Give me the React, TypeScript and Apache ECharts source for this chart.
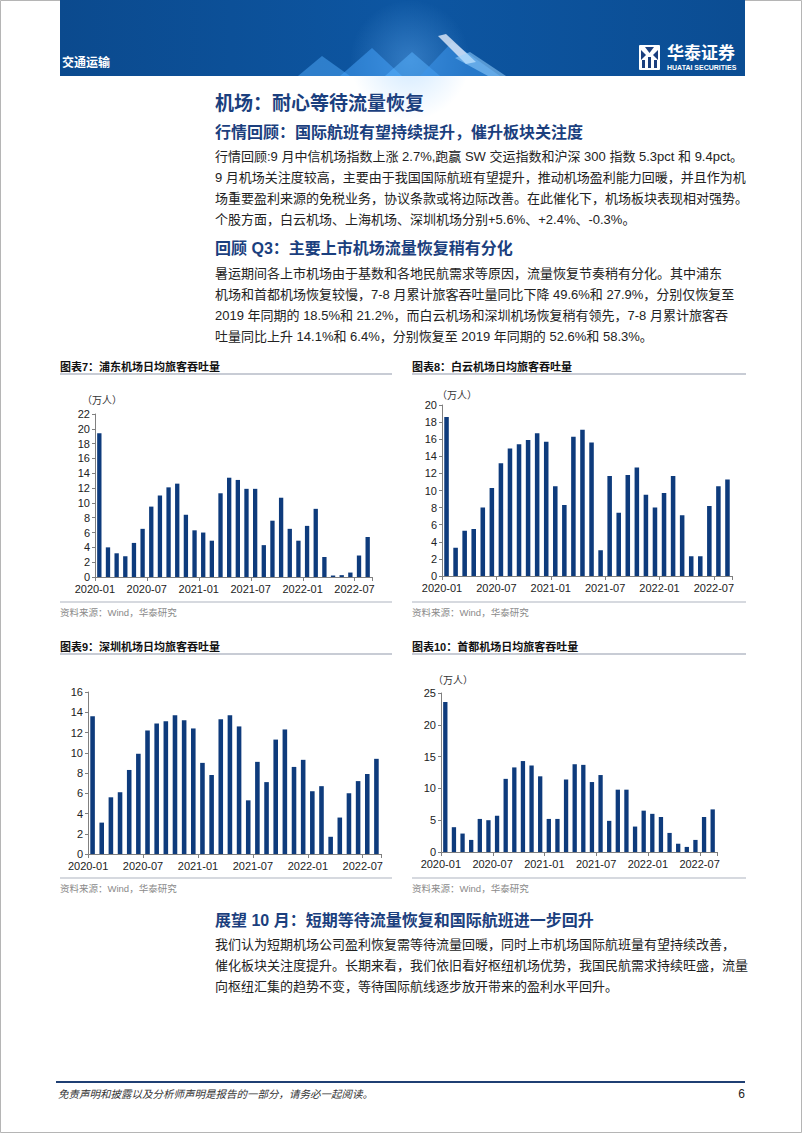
import React, { useEffect, useRef } from "react";
import * as echarts from "echarts";

const categories = [
  "2020-01", "2020-02", "2020-03", "2020-04", "2020-05", "2020-06", "2020-07", "2020-08",
  "2020-09", "2020-10", "2020-11", "2020-12", "2021-01", "2021-02", "2021-03", "2021-04",
  "2021-05", "2021-06", "2021-07", "2021-08", "2021-09", "2021-10", "2021-11", "2021-12",
  "2022-01", "2022-02", "2022-03", "2022-04", "2022-05", "2022-06", "2022-07", "2022-08",
];

const pudong = [19.4, 4.0, 3.2, 2.8, 4.6, 6.5, 9.5, 11.0, 12.1, 12.6, 8.4, 6.3, 6.0, 4.9, 11.3, 13.4, 13.1, 11.9, 11.9, 4.3, 7.6, 10.7, 6.5, 4.9, 6.9, 9.2, 2.7, 0.2, 0.25, 0.6, 2.9, 5.4];
const baiyun = [18.6, 3.3, 5.3, 5.5, 8.0, 10.3, 13.2, 14.9, 15.4, 15.9, 16.7, 15.7, 10.5, 8.3, 16.3, 17.1, 15.6, 3.0, 11.7, 7.4, 11.8, 12.7, 9.5, 8.0, 9.7, 11.7, 7.1, 2.3, 2.3, 8.2, 10.5, 11.3];
const shenzhen = [13.6, 3.1, 5.6, 6.1, 8.3, 9.9, 12.2, 12.9, 13.1, 13.7, 13.2, 12.4, 9.0, 7.8, 13.3, 13.7, 12.6, 5.3, 9.1, 7.1, 11.3, 12.3, 8.6, 9.3, 6.2, 6.7, 1.7, 3.6, 6.0, 7.2, 7.9, 9.4];
const capital = [23.6, 3.9, 2.9, 1.9, 5.2, 5.0, 5.7, 11.5, 13.3, 14.3, 13.6, 11.9, 5.2, 5.2, 11.4, 13.8, 13.7, 11.0, 12.1, 4.9, 9.8, 9.8, 4.0, 6.5, 6.0, 5.5, 3.0, 1.3, 0.8, 1.9, 5.5, 6.7];

const seriesData = [pudong, baiyun, shenzhen, capital];
const yMax = [22, 20, 16, 25];
const yInterval = [2, 2, 2, 5];
const chartTitles = [
  "图表7：浦东机场日均旅客吞吐量",
  "图表8：白云机场日均旅客吞吐量",
  "图表9：深圳机场日均旅客吞吐量",
  "图表10：首都机场日均旅客吞吐量",
];
const unitLabel = "（万人）";
const sourceText = "资料来源：Wind，华泰研究";

const headerSector = "交通运输";
const logoCn = "华泰证券";
const logoEn = "HUATAI SECURITIES";
const mainTitle = "机场：耐心等待流量恢复";
const heading1 = "行情回顾：国际航班有望持续提升，催升板块关注度";
const para1 = [
  "行情回顾:9 月中信机场指数上涨 2.7%,跑赢 SW 交运指数和沪深 300 指数 5.3pct 和 9.4pct。",
  "9 月机场关注度较高，主要由于我国国际航班有望提升，推动机场盈利能力回暖，并且作为机",
  "场重要盈利来源的免税业务，协议条款或将边际改善。在此催化下，机场板块表现相对强势。",
  "个股方面，白云机场、上海机场、深圳机场分别+5.6%、+2.4%、-0.3%。",
];
const heading2 = "回顾 Q3：主要上市机场流量恢复稍有分化";
const para2 = [
  "暑运期间各上市机场由于基数和各地民航需求等原因，流量恢复节奏稍有分化。其中浦东",
  "机场和首都机场恢复较慢，7-8 月累计旅客吞吐量同比下降 49.6%和 27.9%，分别仅恢复至",
  "2019 年同期的 18.5%和 21.2%，而白云机场和深圳机场恢复稍有领先，7-8 月累计旅客吞",
  "吐量同比上升 14.1%和 6.4%，分别恢复至 2019 年同期的 52.6%和 58.3%。",
];
const heading3 = "展望 10 月：短期等待流量恢复和国际航班进一步回升";
const para3 = [
  "我们认为短期机场公司盈利恢复需等待流量回暖，同时上市机场国际航班量有望持续改善，",
  "催化板块关注度提升。长期来看，我们依旧看好枢纽机场优势，我国民航需求持续旺盛，流量",
  "向枢纽汇集的趋势不变，等待国际航线逐步放开带来的盈利水平回升。",
];
const footerText = "免责声明和披露以及分析师声明是报告的一部分，请务必一起阅读。";
const pageNumber = "6";

const FONT = '"Liberation Sans", "Noto Sans CJK SC", sans-serif';
const BLUE = "#1b3f7e";
const BAR = "#0e3b7c";
const AXIS = "#808080";

const grids = [
  { left: 95, top: 414, width: 277, height: 163 },
  { left: 442, top: 405, width: 290, height: 171 },
  { left: 88, top: 692, width: 293, height: 162 },
  { left: 441, top: 693, width: 276, height: 159 },
];

function txt(text: string, x: number, y: number, o: any = {}) {
  return {
    type: "text",
    x,
    y,
    silent: true,
    style: {
      text,
      fill: o.fill || "#222",
      fontSize: o.fontSize || 13,
      fontWeight: o.fontWeight || "normal",
      fontStyle: o.fontStyle || "normal",
      fontFamily: FONT,
      align: o.align || "left",
      verticalAlign: "middle",
    },
  };
}

function ln(x1: number, y1: number, x2: number, y2: number, color: string, w: number) {
  return {
    type: "line",
    silent: true,
    shape: { x1, y1, x2, y2 },
    style: { stroke: color, lineWidth: w },
  };
}

function buildGraphics() {
  const g: any[] = [];
  g.push({ type: "rect", silent: true, shape: { x: 0.5, y: 0.5, width: 801, height: 1132 }, style: { fill: "none", stroke: "#b5b5b5", lineWidth: 1 } });
  g.push({
    type: "rect",
    silent: true,
    shape: { x: 60, y: 0, width: 685, height: 76 },
    style: {
      fill: new echarts.graphic.LinearGradient(0, 0, 1, 0, [
        { offset: 0, color: "#0b4a8e" },
        { offset: 0.5, color: "#0d56a2" },
        { offset: 1, color: "#0b4d93" },
      ]),
    },
  });
  g.push({
    type: "circle",
    silent: true,
    shape: { cx: 410, cy: 60, r: 60 },
    style: {
      fill: new echarts.graphic.RadialGradient(0.5, 0.5, 0.5, [
        { offset: 0, color: "rgba(120,190,255,0.35)" },
        { offset: 1, color: "rgba(120,190,255,0)" },
      ]),
    },
  });
  const tri = (pts: number[][], fill: string) => ({ type: "polygon", silent: true, shape: { points: pts }, style: { fill } });
  g.push(tri([[298, 76], [322, 56], [350, 76]], "rgba(80,170,250,0.5)"));
  g.push(tri([[340, 76], [372, 48], [402, 76]], "rgba(70,160,245,0.55)"));
  g.push(tri([[385, 76], [412, 52], [440, 76]], "rgba(90,180,255,0.5)"));
  g.push(tri([[420, 76], [452, 42], [500, 76]], "rgba(60,150,235,0.55)"));
  g.push(tri([[438, 36], [446, 34], [476, 62], [466, 64]], "rgba(225,235,250,0.8)"));
  g.push(tri([[455, 58], [470, 52], [506, 76], [488, 76]], "rgba(150,210,255,0.55)"));
  g.push(txt(headerSector, 62, 63, { fill: "#ffffff", fontSize: 12, fontWeight: "bold" }));
  g.push({ type: "rect", silent: true, shape: { x: 639, y: 45, width: 21, height: 25, r: 1 }, style: { fill: "#ffffff" } });
  g.push(tri([[641, 50], [646, 55], [641, 60]], BLUE));
  g.push(tri([[658, 50], [653, 55], [658, 60]], BLUE));
  g.push(tri([[645, 47], [654, 47], [649.5, 53]], BLUE));
  g.push({ type: "rect", silent: true, shape: { x: 642, y: 60, width: 3, height: 8 }, style: { fill: BLUE } });
  g.push({ type: "rect", silent: true, shape: { x: 648, y: 57, width: 3, height: 11 }, style: { fill: BLUE } });
  g.push({ type: "rect", silent: true, shape: { x: 654, y: 60, width: 3, height: 8 }, style: { fill: BLUE } });
  g.push(txt(logoCn, 667, 53, { fill: "#ffffff", fontSize: 17, fontWeight: "bold" }));
  g.push(txt(logoEn, 667, 67, { fill: "#ffffff", fontSize: 7, fontWeight: "bold" }));

  g.push(txt(mainTitle, 215, 103, { fill: BLUE, fontSize: 19, fontWeight: "bold" }));
  g.push(txt(heading1, 215, 132, { fill: BLUE, fontSize: 16, fontWeight: "bold" }));
  const p1y = [156, 177, 198, 219];
  para1.forEach((s, i) => g.push(txt(s, 215, p1y[i], { fontSize: 13, fill: "#222" })));
  g.push(txt(heading2, 215, 248, { fill: BLUE, fontSize: 16, fontWeight: "bold" }));
  const p2y = [273, 294, 315, 336];
  para2.forEach((s, i) => g.push(txt(s, 215, p2y[i], { fontSize: 13, fill: "#222" })));
  g.push(txt(heading3, 215, 920, { fill: BLUE, fontSize: 16, fontWeight: "bold" }));
  const p3y = [944, 965, 986];
  para3.forEach((s, i) => g.push(txt(s, 215, p3y[i], { fontSize: 13, fill: "#222" })));

  const titleY = [367, 367, 647, 647];
  const colX = [[60, 392], [412, 746], [60, 392], [412, 746]];
  const bottomY = [602, 602, 878, 878];
  chartTitles.forEach((t, i) => {
    const [x1, x2] = colX[i];
    g.push(txt(t, x1, titleY[i], { fontSize: 11, fontWeight: "bold", fill: "#111" }));
    g.push(ln(x1, titleY[i] + 7, x2, titleY[i] + 7, "#c8ccd5", 2));
    g.push(ln(x1, bottomY[i], x2, bottomY[i], "#c8ccd5", 1.5));
    g.push(txt(sourceText, x1, bottomY[i] + 10, { fontSize: 9.5, fill: "#8a8a8a" }));
  });
  const unitPos = [[82, 400], [437, 395], null, [433, 680]];
  unitPos.forEach((p) => {
    if (p) g.push(txt(unitLabel, p[0], p[1], { fontSize: 10, fill: "#333" }));
  });

  g.push(ln(56, 1082, 745, 1082, "#1f3f73", 2));
  g.push(txt(footerText, 58, 1094, { fontSize: 10.5, fontStyle: "italic", fill: "#333" }));
  g.push(txt(pageNumber, 745, 1094, { fontSize: 12, fill: "#222", align: "right" }));
  return g;
}

function buildOption() {
  return {
    animation: false,
    backgroundColor: "#ffffff",
    grid: grids.map((gr) => ({ ...gr, containLabel: false })),
    xAxis: grids.map((_, i) => ({
      type: "category",
      gridIndex: i,
      data: categories,
      boundaryGap: true,
      axisLine: { show: true, lineStyle: { color: AXIS, width: 1 } },
      axisTick: { show: true, interval: 5, length: 4, alignWithLabel: false, lineStyle: { color: AXIS } },
      axisLabel: {
        interval: 5,
        fontSize: 11,
        color: "#222",
        fontFamily: FONT,
        margin: 6,
        padding: [0, 9, 0, 0],
      },
      splitLine: { show: false },
    })),
    yAxis: grids.map((_, i) => ({
      type: "value",
      gridIndex: i,
      min: 0,
      max: yMax[i],
      interval: yInterval[i],
      axisLine: { show: true, lineStyle: { color: AXIS, width: 1 } },
      axisTick: { show: true, length: 3, lineStyle: { color: AXIS } },
      axisLabel: { fontSize: 11, color: "#222", fontFamily: FONT, margin: 5 },
      splitLine: { show: false },
    })),
    series: seriesData.map((d, i) => ({
      type: "bar",
      xAxisIndex: i,
      yAxisIndex: i,
      data: d,
      barWidth: "50%",
      itemStyle: { color: BAR },
      silent: true,
    })),
    graphic: { elements: buildGraphics() },
  };
}

export default function App() {
  const ref = useRef<HTMLDivElement>(null);
  useEffect(() => {
    document.body.style.margin = "0";
    if (!ref.current) return;
    const chart = echarts.init(ref.current, undefined, { renderer: "svg" });
    chart.setOption(buildOption() as any);
    return () => chart.dispose();
  }, []);
  return (
    <div
      ref={ref}
      style={{ position: "absolute", left: 0, top: 0, width: 802, height: 1133, background: "#fff" }}
    />
  );
}
